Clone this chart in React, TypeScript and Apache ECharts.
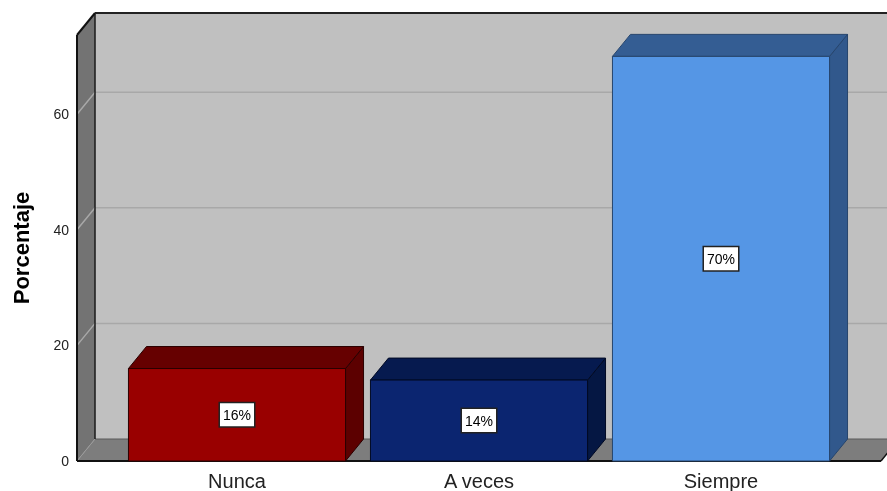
import React, { useEffect, useRef } from "react";
import * as echarts from "echarts";

const categories = ["Nunca", "A veces", "Siempre"];
const percentages = [16, 14, 70];
const yTicks = [0, 20, 40, 60];
const yMax = 73.7;

const frontColors = ["#990000", "#0b2570", "#5596e5"];
const topColors = ["#660000", "#061a4f", "#345d93"];
const sideColors = ["#5c0000", "#051743", "#31588c"];
const edgeColors = ["#2a0000", "#020a24", "#26456d"];

const DX = 18;
const DY = -22;
const PAD = 39;

export default function App() {
  const ref = useRef<HTMLDivElement>(null);
  useEffect(() => {
    const chart = echarts.init(ref.current!, null, { renderer: "svg" });
    const barData = categories.map((c, i) => [i, percentages[i]]);
    chart.setOption({
      animation: false,
      textStyle: { fontFamily: "Liberation Sans" },
      grid: { left: 116, right: 45, top: 35, bottom: 30, outerBoundsMode: "none" },
      xAxis: {
        type: "category",
        data: categories,
        axisLine: { show: false },
        axisTick: { show: false },
        axisLabel: { fontSize: 20, color: "#222", margin: 10, fontFamily: "Liberation Sans" },
      },
      yAxis: {
        type: "value",
        min: 0,
        max: yMax,
        interval: 20,
        offset: PAD,
        axisLine: { show: false },
        axisTick: { show: false },
        splitLine: { show: false },
        axisLabel: {
          fontSize: 14,
          color: "#222",
          margin: 8,
          showMaxLabel: false,
          fontFamily: "Liberation Sans",
          formatter: (v: number) => (yTicks.includes(v) ? String(v) : ""),
        },
        name: "Porcentaje",
        nameLocation: "middle",
        nameGap: 45,
        nameTextStyle: { fontSize: 22, fontWeight: "bold", color: "#000", fontFamily: "Liberation Sans" },
      },
      series: [
        {
          type: "custom",
          z: 1,
          silent: true,
          clip: false,
          data: [[0, 0]],
          renderItem: (params: any, api: any) => {
            const cs = params.coordSys;
            const x0 = cs.x - PAD;
            const x1 = cs.x + cs.width + PAD;
            const yT = cs.y;
            const yB = cs.y + cs.height;
            const children: any[] = [];
            children.push({
              type: "polygon",
              shape: { points: [[x0 + DX, yT + DY], [x1 + DX, yT + DY], [x1 + DX, yB + DY], [x0 + DX, yB + DY]] },
              style: { fill: "#c0c0c0" },
            });
            children.push({
              type: "polygon",
              shape: { points: [[x0, yT], [x0 + DX, yT + DY], [x0 + DX, yB + DY], [x0, yB]] },
              style: { fill: "#737373" },
            });
            children.push({
              type: "polygon",
              shape: { points: [[x0, yB], [x0 + DX, yB + DY], [x1 + DX, yB + DY], [x1, yB]] },
              style: { fill: "#7d7d7d" },
            });
            yTicks
              .filter((v) => v > 0)
              .forEach((v) => {
                const py = api.coord([0, v])[1];
                children.push({
                  type: "polyline",
                  shape: { points: [[x0, py], [x0 + DX, py + DY], [x1 + DX, py + DY]] },
                  style: { stroke: "#a8a8a8", lineWidth: 1.5, fill: null },
                });
              });
            const line = (a: number[], b: number[], stroke: string, lw: number) => ({
              type: "line",
              shape: { x1: a[0], y1: a[1], x2: b[0], y2: b[1] },
              style: { stroke, lineWidth: lw },
            });
            children.push(line([x0 + DX, yB + DY], [x1 + DX, yB + DY], "#5a5a5a", 1));
            children.push(line([x0, yB], [x0 + DX, yB + DY], "#9a9a9a", 1));
            children.push(line([x0 + DX, yT + DY], [x0 + DX, yB + DY], "#1a1a1a", 1.5));
            children.push(line([x0, yT], [x0, yB], "#111", 2));
            children.push(line([x0, yT], [x0 + DX, yT + DY], "#111", 2));
            children.push(line([x0 + DX, yT + DY], [x1 + DX, yT + DY], "#222", 2));
            children.push(line([x0, yB], [x1, yB], "#111", 2));
            children.push(line([x1, yB], [x1 + DX, yB + DY], "#111", 1.5));
            return { type: "group", children };
          },
        },
        {
          type: "custom",
          z: 2,
          clip: false,
          data: barData,
          renderItem: (params: any, api: any) => {
            const idx = api.value(0);
            const val = api.value(1);
            const i = params.dataIndex;
            const base = api.coord([idx, 0]);
            const top = api.coord([idx, val]);
            const w = api.size([1, 0])[0] * 0.897;
            const xl = base[0] - w / 2;
            const xr = base[0] + w / 2;
            const yt = top[1];
            const yb = base[1];
            return {
              type: "group",
              children: [
                {
                  type: "polygon",
                  shape: { points: [[xr, yt], [xr + DX, yt + DY], [xr + DX, yb + DY], [xr, yb]] },
                  style: { fill: sideColors[i], stroke: edgeColors[i], lineWidth: 1 },
                },
                {
                  type: "polygon",
                  shape: { points: [[xl, yt], [xl + DX, yt + DY], [xr + DX, yt + DY], [xr, yt]] },
                  style: { fill: topColors[i], stroke: edgeColors[i], lineWidth: 1 },
                },
                {
                  type: "rect",
                  shape: { x: xl, y: yt, width: w, height: yb - yt },
                  style: { fill: frontColors[i], stroke: edgeColors[i], lineWidth: 1 },
                },
                {
                  type: "text",
                  x: base[0],
                  y: (yt + yb) / 2,
                  style: {
                    text: val + "%",
                    fill: "#000",
                    font: '14px "Liberation Sans"',
                    align: "center",
                    verticalAlign: "middle",
                    backgroundColor: "#fff",
                    borderColor: "#222",
                    borderWidth: 1.5,
                    padding: [5, 3, 4, 3],
                  },
                },
              ],
            };
          },
        },
      ],
    });
    return () => chart.dispose();
  }, []);
  return <div ref={ref} style={{ position: "fixed", left: 0, top: 0, width: 887, height: 491 }} />;
}
